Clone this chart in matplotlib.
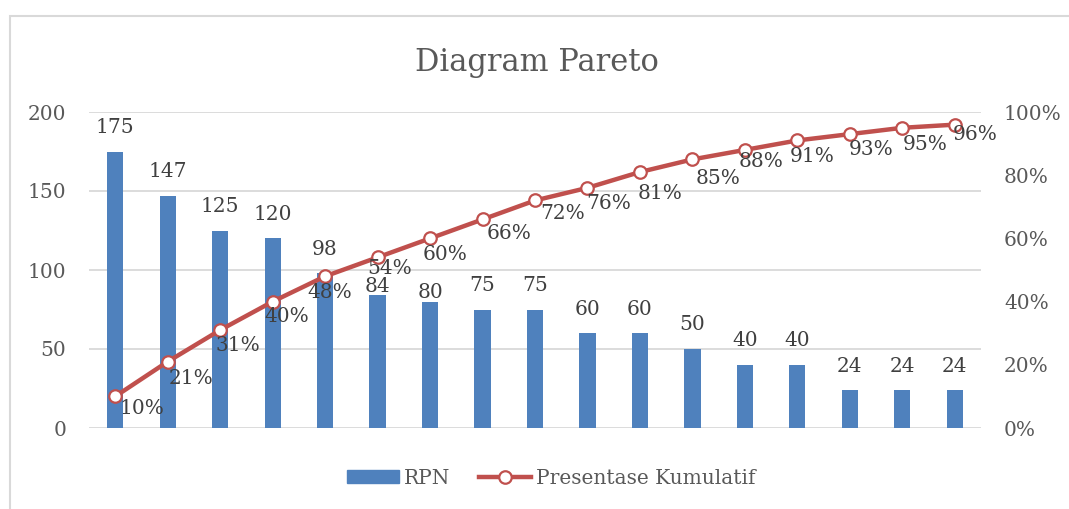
import matplotlib.pyplot as plt
import numpy as np
from matplotlib.patches import Rectangle
from matplotlib.lines import Line2D
from matplotlib.ticker import FuncFormatter

# data
rpn = [175, 147, 125, 120, 98, 84, 80, 75, 75, 60, 60, 50, 40, 40, 24, 24, 24]
kumulatif = [10, 21, 31, 40, 48, 54, 60, 66, 72, 76, 81, 85, 88, 91, 93, 95, 96]
y_ticks = [0, 50, 100, 150, 200]
pct_ticks = [0, 20, 40, 60, 80, 100]

# label placement tweaks (pixels), mimicking the original layout
bar_lbl_gap = [24, 24, 24, 24, 24, 9, 9, 24, 24, 24, 24, 24, 24, 24, 24, 24, 24]
pct_dx = [4, 1, -5, -8, -18, -10, -7, 4, 5, -1, -2, 3, -6, -8, -1, 0, -2]
pct_dy = [12, 17, 15, 15, 16, 11, 16, 14, 13, 16, 21, 19, 12, 16, 15, 17, 10]

plt.rcParams['font.family'] = ['DejaVu Serif']
bar_color = '#4f81bd'
line_color = '#c0504d'
txt = '#595959'
lbl = '#404040'
px = 0.72  # points per pixel at dpi 100

fig = plt.figure(figsize=(10.69, 5.09), dpi=100)
ax = fig.add_axes([89 / 1069, 1 - 428 / 509, (981 - 89) / 1069, (428 - 112) / 509])

x = np.arange(len(rpn))
ax.bar(x, rpn, width=0.31, color=bar_color, zorder=2)
ax.set_xlim(-0.5, len(rpn) - 0.5)
ax.set_ylim(0, 200)
ax.set_yticks(y_ticks)
ax.grid(axis='y', color='#d9d9d9', lw=1.3, zorder=0)
ax.set_xticks([])
for s in ax.spines.values():
    s.set_visible(False)
ax.tick_params(axis='y', length=0, pad=16.5, labelsize=14.5, labelcolor=txt)

for i, v in enumerate(rpn):
    ax.annotate(str(v), (i, v), xytext=(0, bar_lbl_gap[i] * px),
                textcoords='offset points', ha='center', va='center',
                fontsize=14.5, color=lbl)

ax2 = ax.twinx()
ax2.set_ylim(0, 100)
ax2.set_yticks(pct_ticks)
ax2.yaxis.set_major_formatter(FuncFormatter(lambda v, p: '%d%%' % v))
for s in ax2.spines.values():
    s.set_visible(False)
ax2.tick_params(axis='y', length=0, pad=16.5, labelsize=14.5, labelcolor=txt)
ax2.plot(x, kumulatif, color=line_color, lw=3.2, marker='o', markersize=9,
         markerfacecolor='white', markeredgecolor=line_color, markeredgewidth=1.6,
         zorder=3)
for i, v in enumerate(kumulatif):
    ax2.annotate('%d%%' % v, (i, v), xytext=(pct_dx[i] * px, -pct_dy[i] * px),
                 textcoords='offset points', ha='left', va='center',
                 fontsize=14.5, color=lbl, zorder=4)

fig.text(537 / 1069, 1 - 62 / 509, 'Diagram Pareto', ha='center', va='center',
         fontsize=22, color=txt)

handles = [Rectangle((0, 0), 1, 1, color=bar_color),
           Line2D([], [], color=line_color, lw=3.2, marker='o', markersize=9,
                  markerfacecolor='white', markeredgecolor=line_color,
                  markeredgewidth=1.6)]
fig.legend(handles, ['RPN', 'Presentase Kumulatif'], loc='center',
           bbox_to_anchor=(551 / 1069, 1 - 478 / 509), ncol=2, frameon=False,
           fontsize=14.5, labelcolor=txt, handlelength=2.6, handleheight=0.6,
           columnspacing=1.4, handletextpad=0.25)

fig.add_artist(Rectangle((10 / 1069, -0.1), 1.2, 1 - 16 / 509 + 0.1,
                         transform=fig.transFigure, fill=False,
                         edgecolor='#d9d9d9', lw=1.5))

fig.savefig('out.png', dpi=100)
